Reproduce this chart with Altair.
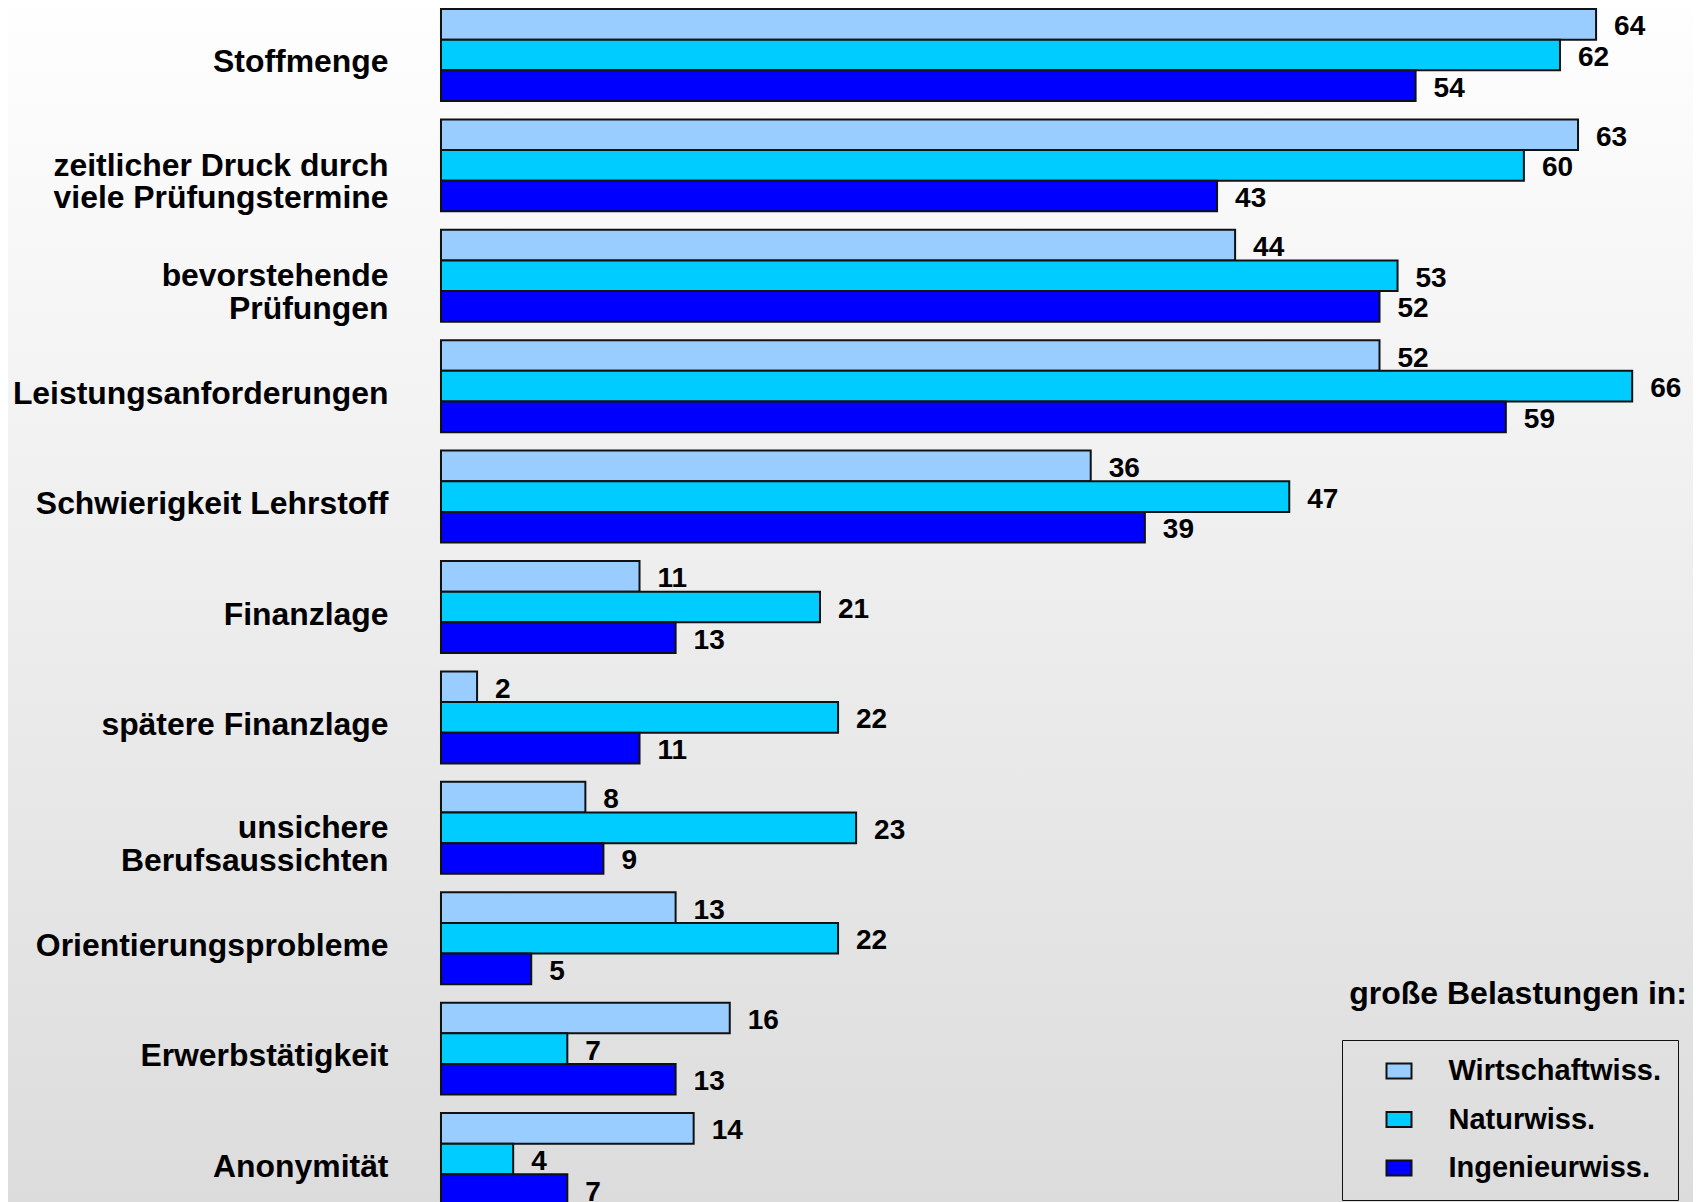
import altair as alt
import pandas as pd

categories = [
    "Stoffmenge",
    "zeitlicher Druck durch\nviele Prüfungstermine",
    "bevorstehende\nPrüfungen",
    "Leistungsanforderungen",
    "Schwierigkeit Lehrstoff",
    "Finanzlage",
    "spätere Finanzlage",
    "unsichere\nBerufsaussichten",
    "Orientierungsprobleme",
    "Erwerbstätigkeit",
    "Anonymität",
]
series = ["Wirtschaftwiss.", "Naturwiss.", "Ingenieurwiss."]
wirtschaft = [64, 63, 44, 52, 36, 11, 2, 8, 13, 16, 14]
natur = [62, 60, 53, 66, 47, 21, 22, 23, 22, 7, 4]
ingenieur = [54, 43, 52, 59, 39, 13, 11, 9, 5, 13, 7]
colors = ["#99ccff", "#00ccff", "#0000ff"]
legend_title = "große Belastungen in:"

rows = []
for name, vals in zip(series, [wirtschaft, natur, ingenieur]):
    for cat, v in zip(categories, vals):
        rows.append({"Kategorie": cat, "Gruppe": name, "Wert": v})
df = pd.DataFrame(rows)

W, H = 1685, 1194
FONT = "Liberation Sans"

yenc = alt.Y(
    "Kategorie:N",
    sort=categories,
    scale=alt.Scale(domain=categories, range=[1, 1197], paddingInner=0.167, paddingOuter=0),
    axis=alt.Axis(
        title=None, labelFont=FONT, labelFontSize=31.9, labelFontWeight="bold",
        labelColor="black", labelAlign="right", labelBaseline="middle",
        labelOffset={"condition": {"test": "indexof(datum.value, '\\n') >= 0", "value": 0.5}, "value": 7.5},
        labelLineHeight=32.5, labelLimit=600, ticks=False, tickSize=0,
        domain=False, labelPadding=0, offset=-380, grid=False, zindex=2,
        labelExpr="split(datum.label, '\\n')",
    ),
)
yoff = alt.YOffset("Gruppe:N", sort=series, scale=alt.Scale(domain=series, paddingInner=0, paddingOuter=0))
xenc = alt.X("Wert:Q", scale=alt.Scale(domain=[-23.99, 69.37], nice=False, zero=False), axis=None)

bg = alt.Chart(pd.DataFrame({"bg": [0]})).mark_rect(
    color=alt.LinearGradient(
        gradient="linear",
        stops=[alt.GradientStop(offset=0, color="#fefefe"), alt.GradientStop(offset=1, color="#dcdcdc")],
        x1=0, x2=0, y1=0, y2=1,
    )
).encode(x=alt.value(0), x2=alt.value(W), y=alt.value(0), y2=alt.value(H))

bars = alt.Chart(df).mark_bar(stroke="#111111", strokeWidth=2, clip=True).encode(
    y=yenc,
    yOffset=yoff,
    x=xenc,
    color=alt.Color(
        "Gruppe:N",
        sort=series,
        scale=alt.Scale(domain=series, range=colors),
        legend=alt.Legend(
            title=None, orient="none", legendX=1334, legendY=1032,
            strokeColor="#111111", padding=16.5, symbolOffset=26,
            symbolType="M-1,-0.6H1V0.6H-1Z", symbolSize=625,
            symbolStrokeColor="#111111", symbolStrokeWidth=2,
            labelFont=FONT, labelFontSize=29, labelFontWeight="bold", labelColor="black",
            labelOffset=35, rowPadding=18.5, labelLimit=0,
        ),
    ),
)

labels = alt.Chart(df).mark_text(
    align="left", baseline="middle", dx=18, dy=3, fontSize=28, font=FONT,
    fontWeight="bold", color="black", clip=True,
).encode(y=yenc, yOffset=yoff, x=xenc, text="Wert:Q")

chart = alt.layer(bg, bars, labels).properties(
    width=W, height=H, padding=0,
    title=alt.TitleParams(
        legend_title, anchor="end", orient="top", frame="group", offset=0, dy=1028, dx=-6,
        baseline="alphabetic", font=FONT, fontSize=32, fontWeight="bold", color="black",
    ),
).configure_view(stroke=None).configure(background="white")

chart.save("out.html", embed_options={"renderer": "svg", "actions": False})
